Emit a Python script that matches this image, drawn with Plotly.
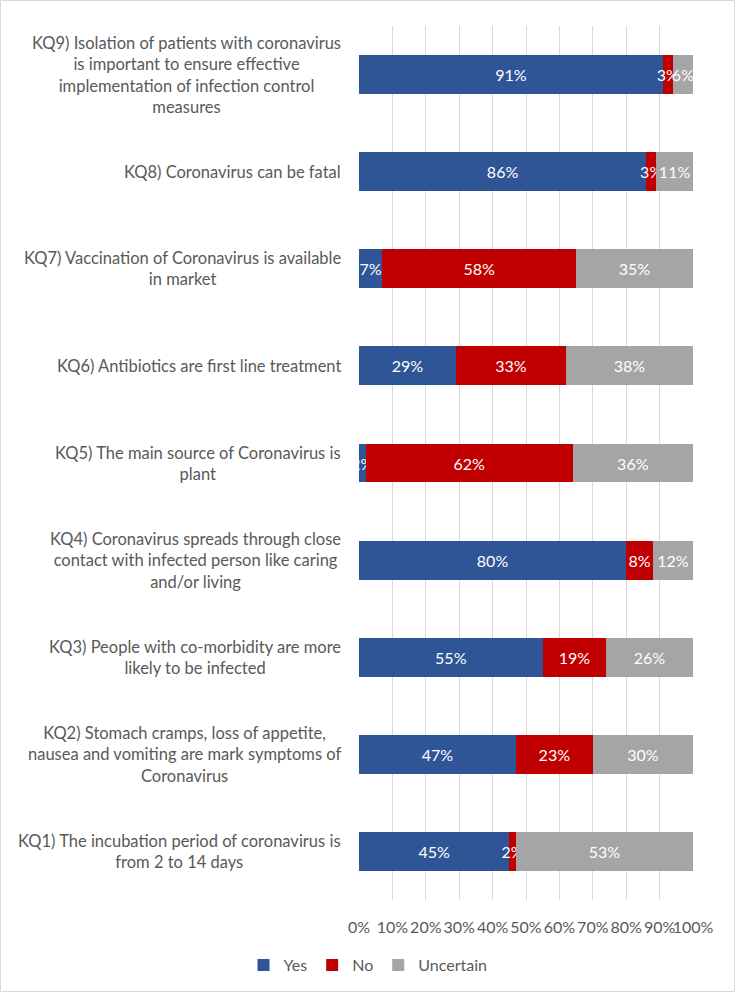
import plotly.graph_objects as go

categories = ["KQ1", "KQ2", "KQ3", "KQ4", "KQ5", "KQ6", "KQ7", "KQ8", "KQ9"]
labels = [
    "KQ1) The incubation period of coronavirus is<br>from 2 to 14 days",
    "KQ2) Stomach cramps, loss of appetite,<br>nausea and vomiting are mark symptoms of<br>Coronavirus",
    "KQ3) People with co-morbidity are more<br>likely to be infected",
    "KQ4) Coronavirus spreads through close<br>contact with infected person like caring<br>and/or living",
    "KQ5) The main source of Coronavirus is<br>plant",
    "KQ6) Antibiotics are first line treatment",
    "KQ7) Vaccination of Coronavirus is available<br>in market",
    "KQ8) Coronavirus can be fatal",
    "KQ9) Isolation of patients with coronavirus<br>is important to ensure effective<br>implementation of infection control<br>measures",
]
yes = [45, 47, 55, 80, 2, 29, 7, 86, 91]
no = [2, 23, 19, 8, 62, 33, 58, 3, 3]
uncertain = [53, 30, 26, 12, 36, 38, 35, 11, 6]
x_ticks = [0, 10, 20, 30, 40, 50, 60, 70, 80, 90, 100]

FONT = "Lato"
GREY = "#595959"

W, H = 736, 994
ML, MR, MT, MB = 359, 43, 26, 94
PW, PH = W - ML - MR, H - MT - MB

fig = go.Figure()
for name, vals, color in [("Yes", yes, "#2F5597"), ("No", no, "#C00000"), ("Uncertain", uncertain, "#A5A5A5")]:
    fig.add_trace(go.Bar(
        y=categories, x=vals, name=name, orientation="h",
        marker=dict(color=color, line=dict(width=0)),
        text=[f"{v}%" for v in vals], textposition="inside", insidetextanchor="middle",
        textangle=0,
        textfont=dict(family=FONT, size=16, color="white"),
        constraintext="none", cliponaxis=True,
    ))

for c, lab in zip(categories, labels):
    fig.add_annotation(
        x=(343 - ML) / PW, xref="paper", y=c, yref="y",
        text=lab, showarrow=False, xanchor="right", yanchor="middle", align="center",
        font=dict(family=FONT, size=16.5, color=GREY),
    )

fig.add_shape(type="rect", xref="paper", yref="paper",
              x0=(0.5 - ML) / PW, x1=(W - 1.5 - ML) / PW,
              y0=-(MB - 2.5) / PH, y1=1 + (MT - 0.5) / PH,
              line=dict(color="#D9D9D9", width=1), fillcolor="rgba(0,0,0,0)", layer="below")

fig.update_layout(
    width=W, height=H,
    margin=dict(l=ML, r=MR, t=MT, b=MB, autoexpand=False),
    barmode="stack", bargap=0.6,
    plot_bgcolor="white", paper_bgcolor="white",
    font=dict(family=FONT, size=16, color=GREY),
    uniformtext=dict(minsize=16, mode="show"),
    xaxis=dict(range=[0, 100], tickvals=x_ticks, ticktext=[f"{t}%" for t in x_ticks],
               tickangle=0, automargin=False,
               showgrid=True, gridcolor="#D9D9D9", gridwidth=1, zeroline=False,
               showline=False, ticks="", ticklabelstandoff=16,
               tickfont=dict(family=FONT, size=16, color=GREY), fixedrange=True),
    yaxis=dict(showticklabels=False, showgrid=False, zeroline=False, showline=False,
               automargin=False,
               categoryorder="array", categoryarray=categories, fixedrange=True),
    legend=dict(orientation="h", xref="container", yref="container",
                x=0.5, xanchor="center", y=1 - 965 / H, yanchor="middle",
                font=dict(family=FONT, size=16, color=GREY), traceorder="normal",
                itemwidth=30),
    showlegend=True,
)

fig.write_html("out.html", config={"displayModeBar": False},
               post_script="document.body.style.margin='0';document.body.style.padding='0';")
